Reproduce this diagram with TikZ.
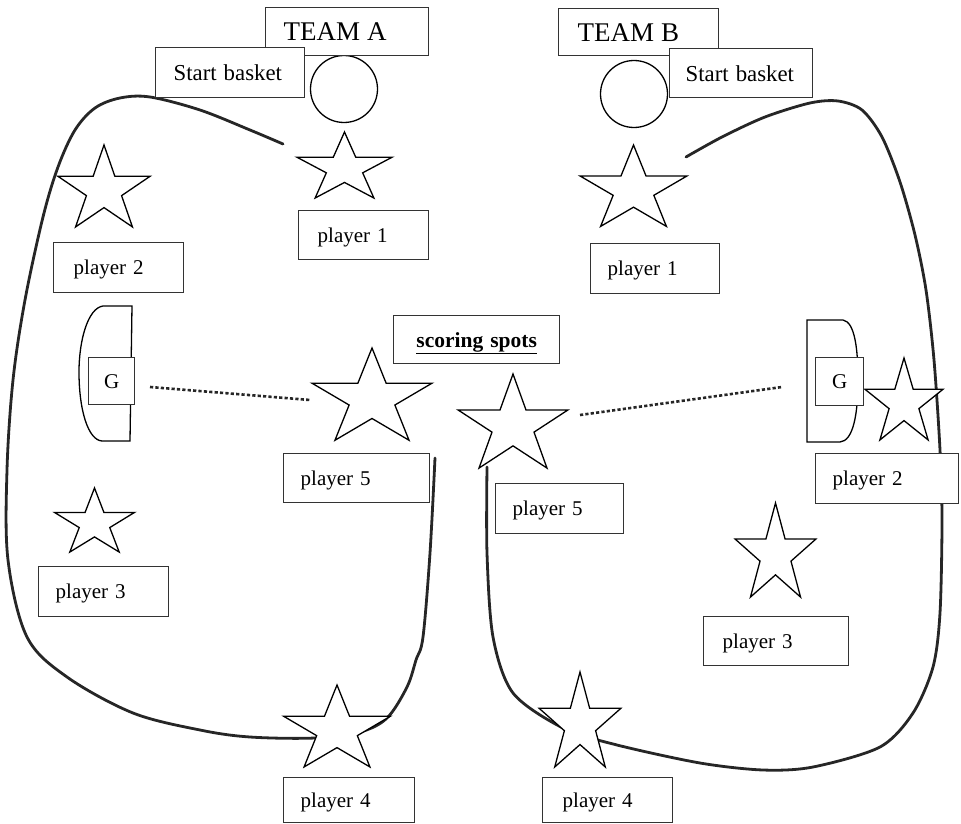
\documentclass[tikz,border=0pt]{standalone}
\usepackage{fontspec}
\setmainfont{Liberation Serif}
\newcommand\pstar[5]{%
  \coordinate (#1) at (#2,#3);
  \draw[starline] (#2,{#3-#5}) \foreach \k in {1,...,9}{ -- ({#2+(1-0.618*mod(\k,2))*#4*cos(90+36*\k)},{#3-(1-0.618*mod(\k,2))*#5*sin(90+36*\k)}) } -- cycle;
}
\newcommand\tbox[8]{%
  \pgfmathsetmacro\bw{#4-#2}\pgfmathsetmacro\bh{#5-#3}\pgfmathsetmacro\tw{#4-#2-2*#6}%
  \node[boxst, anchor=north west, minimum width=\bw pt, minimum height=\bh pt, inner xsep=#6pt, text width=\tw pt, align=#7] (#1) at (#2,#3) {#8};
}
\begin{document}
\begin{tikzpicture}[x=1pt,y=-1pt,
  boxst/.style={draw=black!80, line width=1.4pt, fill=white, inner ysep=0pt, text depth=0pt, font=\fontsize{21}{24}\selectfont},
  starline/.style={draw=black, line width=1.3pt, fill=white, line join=miter},
  court/.style={draw=black!85, line width=2.8pt, line cap=round},
  dotline/.style={draw=black!85, line width=2.6pt, dash pattern=on 3.2pt off 2.2pt},
  ball/.style={circle, draw=black, line width=1.3pt, minimum size=67pt, inner sep=0pt},
  goal/.style={draw=black, line width=1.3pt, fill=white}
]
\useasboundingbox (0,0) rectangle (961,824);
% court outlines
\draw[court] plot[smooth, tension=0.55] coordinates {(283,144) (250,130) (200,110) (150,97) (120,98) (95,108) (75,130) (58,167) (43,217) (25,300) (13,380) (7,470) (8,560) (27,637) (67,677) (133,713) (200,730) (250,737) (315,738) (360,732) (387,718) (407,687) (416,660) (423,637) (430,553) (435,458)};
\draw[court] plot[smooth, tension=0.5] coordinates {(686,157) (722,137) (765,117) (810,103) (838,101) (862,110) (882,137) (900,182) (915,235) (926,290) (934,360) (940,450) (942,520) (940,613) (933,667) (913,713) (880,747) (813,767) (763,770) (700,763) (617,745) (563,728) (513,693) (493,637) (487,553) (487,467)};
% goal areas
\draw[goal] (132,306) -- (103,306) .. controls (88,308) and (79,340) .. (79,372) .. controls (79,410) and (88,440) .. (102,441) -- (130,441) -- cycle;
\draw[goal] (807,320) -- (843,320) .. controls (855,322) and (858,350) .. (858,380) .. controls (858,415) and (853,441) .. (840,442) -- (807,442) -- cycle;
% dotted lines
\coordinate (dA1) at (150,387); \coordinate (dA2) at (310,400);
\coordinate (dB1) at (580,415); \coordinate (dB2) at (782,387);
\draw[dotline] (dA1) -- (dA2);
\draw[dotline] (dB1) -- (dB2);
% stars
\pstar{sA1}{344.5}{168.5}{50}{36.5}
\pstar{sA2}{104}{190.3}{48.4}{45.3}
\pstar{sA3}{94.5}{523.4}{42}{35.4}
\pstar{sA4}{337}{730.3}{56}{45.3}
\pstar{sA5}{372}{399}{63}{51}
\pstar{sB1}{633.5}{190}{56}{45}
\pstar{sB2}{904}{403.3}{41}{45.3}
\pstar{sB3}{775.5}{555}{42.6}{52}
\pstar{sB4}{580}{724.5}{43}{52.5}
\pstar{sB5}{513}{426}{57.8}{52}
% balls
\node[ball] (ballA) at (344,89) {};
\node[ball] (ballB) at (634,94) {};
% boxes
\tbox{teamA}{265}{7}{428}{55}{18}{left}{\fontsize{27}{30}\selectfont TEAM A}
\tbox{startA}{155}{47}{304}{97}{18}{left}{\fontsize{22.8}{26}\selectfont\mbox{Start basket}}
\tbox{teamB}{558}{8}{718}{55}{19}{left}{\fontsize{27}{30}\selectfont TEAM B}
\tbox{startB}{669}{48}{812}{97}{16}{left}{\fontsize{22.8}{26}\selectfont\mbox{Start basket}}
\tbox{p1A}{298}{210}{428}{259}{19}{left}{player 1}
\tbox{p1B}{590}{243}{719}{293}{17}{left}{player 1}
\tbox{p2A}{53}{242}{183}{292}{20}{left}{player 2}
\tbox{p2B}{815}{453}{958}{503}{17}{left}{player 2}
\tbox{p3A}{38}{566}{168}{616}{17}{left}{player 3}
\tbox{p3B}{703}{616}{848}{665}{19}{left}{player 3}
\tbox{p4A}{283}{777}{414}{822}{17}{left}{player 4}
\tbox{p4B}{542}{777}{672}{822}{20}{left}{player 4}
\tbox{p5A}{283}{453}{429}{502}{17}{left}{player 5}
\tbox{p5B}{495}{483}{623}{533}{17}{left}{player 5}
\tbox{score}{393}{315}{559}{363}{8}{center}{\fontsize{21.5}{24}\selectfont\textbf{\underline{scoring spots}}}
\tbox{gA}{88}{357}{134}{404}{4}{center}{G}
\tbox{gB}{815}{357}{863}{405}{4}{center}{G}
\end{tikzpicture}
\end{document}
